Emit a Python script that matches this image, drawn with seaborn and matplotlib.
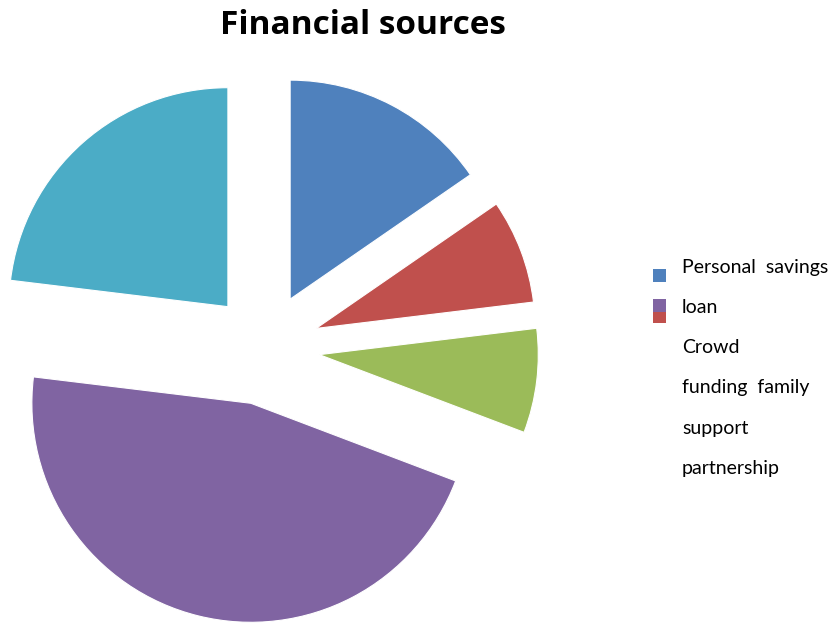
import matplotlib
matplotlib.use("Agg")
import matplotlib.pyplot as plt
import seaborn as sns
from matplotlib.patches import Rectangle

sns.set_theme(style="white")
plt.rcParams['font.family'] = ['Lato', 'DejaVu Sans']

# Data
categories = ["Personal savings", "loan", "Crowd funding", "family support", "partnership"]
values = [4, 2, 2, 12, 6]
colors = ["#4F81BD", "#C0504D", "#9BBB59", "#8064A2", "#4BACC6"]
legend_lines = ["Personal  savings", "loan", "Crowd", "funding  family", "support", "partnership"]

W, H = 834, 623
fig = plt.figure(figsize=(W / 100, H / 100), dpi=100)
fig.patch.set_facecolor("white")

R = 219.0
cx, cy = 264.5, 348.0
half = 280.0
ax = fig.add_axes([(cx - half) / W, (H - (cy + half)) / H, 2 * half / W, 2 * half / H])
ax.pie(values, colors=colors, startangle=90, counterclock=False,
       explode=[0.252, 0.252, 0.252, 0.26, 0.252],
       wedgeprops=dict(edgecolor="white", linewidth=0.8))
ax.set_xlim(-half / R, half / R)
ax.set_ylim(-half / R, half / R)
ax.set_aspect("auto")
ax.axis("off")

fig.text(363 / W, 1 - 25 / H, "Financial sources", ha="center", va="center",
         fontsize=24, fontweight="bold", color="black",
         family=["Open Sans", "DejaVu Sans"])

# Legend (as drawn in the reference)
y0 = 267
dy = 40.3
for i, t in enumerate(legend_lines):
    fig.text(682 / W, 1 - (y0 + i * dy) / H, t, ha="left", va="center",
             fontsize=14, color="black")

def sq(x, y, w, h, c):
    fig.patches.append(Rectangle((x / W, 1 - (y + h) / H), w / W, h / H,
                                 transform=fig.transFigure, facecolor=c,
                                 edgecolor="none", figure=fig))

sq(653, 269, 13, 13, colors[0])
sq(653, 312, 13, 11, colors[1])
sq(653, 299, 13, 13, colors[3])

fig.savefig("out.png", dpi=100, facecolor="white")
